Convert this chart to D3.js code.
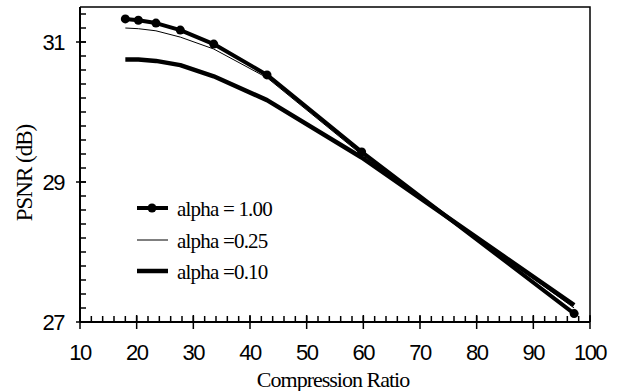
<!DOCTYPE html>
<html>
<head>
<meta charset="utf-8">
<script src="https://cdn.jsdelivr.net/npm/d3@7/dist/d3.min.js"></script>
<style>
  body { margin: 0; background: #fff; }
  .tick-label { font-family: "Liberation Sans", Arial, sans-serif; font-size: 22px; letter-spacing: -1.5px; }
  .title { font-family: "Liberation Serif", "Times New Roman", serif; font-size: 23px; letter-spacing: -1px; }
  .legend { font-family: "Liberation Serif", "Times New Roman", serif; font-size: 21px; letter-spacing: -0.8px; }
</style>
</head>
<body>
<svg width="618" height="391"></svg>
<script>
// compression ratios (x) and PSNR for each alpha
var ratios = [18, 20.3, 23.4, 27.7, 33.6, 43, 59.7, 97.2];
var psnr100 = [31.33, 31.31, 31.27, 31.17, 30.97, 30.53, 29.43, 27.12];
var psnr025 = [31.2, 31.19, 31.16, 31.07, 30.9, 30.49, 29.39, 27.2];
var psnr010 = [30.75, 30.75, 30.73, 30.67, 30.51, 30.17, 29.35, 27.24];

var xTicks = [10, 20, 30, 40, 50, 60, 70, 80, 90, 100];
var yTicks = [27, 29, 31];
var legendLabels = ["alpha = 1.00", "alpha =0.25", "alpha =0.10"];

var svg = d3.select("svg");
var x = d3.scaleLinear().domain([10, 100]).range([80, 590]);
var y = d3.scaleLinear().domain([27, 31.5]).range([322, 7]);

// frame (top and right)
svg.append("path")
  .attr("d", "M" + x(10) + "," + y(31.5) + "H" + x(100) + "V" + y(27))
  .attr("fill", "none").attr("stroke", "#000").attr("stroke-width", 1.5);

// axes lines
svg.append("line").attr("x1", x(10)).attr("x2", x(100)).attr("y1", y(27)).attr("y2", y(27))
  .attr("stroke", "#000").attr("stroke-width", 2);
svg.append("line").attr("x1", x(10)).attr("x2", x(10)).attr("y1", y(27)).attr("y2", y(31.5))
  .attr("stroke", "#000").attr("stroke-width", 2);

// minor ticks
var xMinor = d3.range(10, 100.01, 2);
var yMinor = d3.range(27, 31.51, 0.2);
svg.selectAll(".xminor").data(xMinor).enter().append("line")
  .attr("x1", d => x(d)).attr("x2", d => x(d))
  .attr("y1", y(27)).attr("y2", y(27) - 6)
  .attr("stroke", "#000").attr("stroke-width", 1.5);
svg.selectAll(".yminor").data(yMinor).enter().append("line")
  .attr("x1", x(10)).attr("x2", x(10) + 6)
  .attr("y1", d => y(d)).attr("y2", d => y(d))
  .attr("stroke", "#000").attr("stroke-width", 1.5);

// major ticks, crossing the axis
svg.selectAll(".xmajor").data(xTicks).enter().append("line")
  .attr("x1", d => x(d)).attr("x2", d => x(d))
  .attr("y1", y(27) - 7).attr("y2", y(27) + 7)
  .attr("stroke", "#000").attr("stroke-width", 1.5);
svg.selectAll(".ymajor").data(yTicks).enter().append("line")
  .attr("x1", x(10) - 4).attr("x2", x(10) + 6)
  .attr("y1", d => y(d)).attr("y2", d => y(d))
  .attr("stroke", "#000").attr("stroke-width", 1.5);

// tick labels
svg.selectAll(".xlab").data(xTicks).enter().append("text")
  .attr("class", "tick-label")
  .attr("x", d => x(d)).attr("y", 360)
  .attr("text-anchor", "middle")
  .text(d => d);
svg.selectAll(".ylab").data(yTicks).enter().append("text")
  .attr("class", "tick-label")
  .attr("x", 64).attr("y", d => y(d) + 8)
  .attr("text-anchor", "end")
  .text(d => d);

// axis titles
svg.append("text").attr("class", "title")
  .attr("x", 333).attr("y", 387).attr("text-anchor", "middle")
  .style("font-size", "22px")
  .text("Compression Ratio");
svg.append("text").attr("class", "title")
  .attr("transform", "translate(32,173) rotate(-90)")
  .attr("text-anchor", "middle")
  .text("PSNR (dB)");

// lines
var line = d3.line().x(d => x(d[0])).y(d => y(d[1]));
var series = [
  {vals: psnr100, w: 4, dots: true},
  {vals: psnr025, w: 1, dots: false},
  {vals: psnr010, w: 4.5, dots: false}
];
series.forEach(function(s) {
  var pts = ratios.map((r, i) => [r, s.vals[i]]);
  svg.append("path").datum(pts)
    .attr("d", line)
    .attr("fill", "none").attr("stroke", "#000").attr("stroke-width", s.w)
    .attr("stroke-linejoin", "round");
  if (s.dots) {
    svg.selectAll(null).data(pts).enter().append("circle")
      .attr("cx", d => x(d[0])).attr("cy", d => y(d[1])).attr("r", 4.5)
      .attr("fill", "#000");
  }
});

// legend
var legY = [208, 240, 271];
series.forEach(function(s, i) {
  svg.append("line").attr("x1", 137).attr("x2", 168)
    .attr("y1", legY[i]).attr("y2", legY[i])
    .attr("stroke", "#000").attr("stroke-width", s.w);
  if (s.dots) {
    svg.append("circle").attr("cx", 152).attr("cy", legY[i]).attr("r", 4.5).attr("fill", "#000");
  }
  svg.append("text").attr("class", "legend")
    .attr("x", 177).attr("y", legY[i] + 8)
    .text(legendLabels[i]);
});
</script>
</body>
</html>
